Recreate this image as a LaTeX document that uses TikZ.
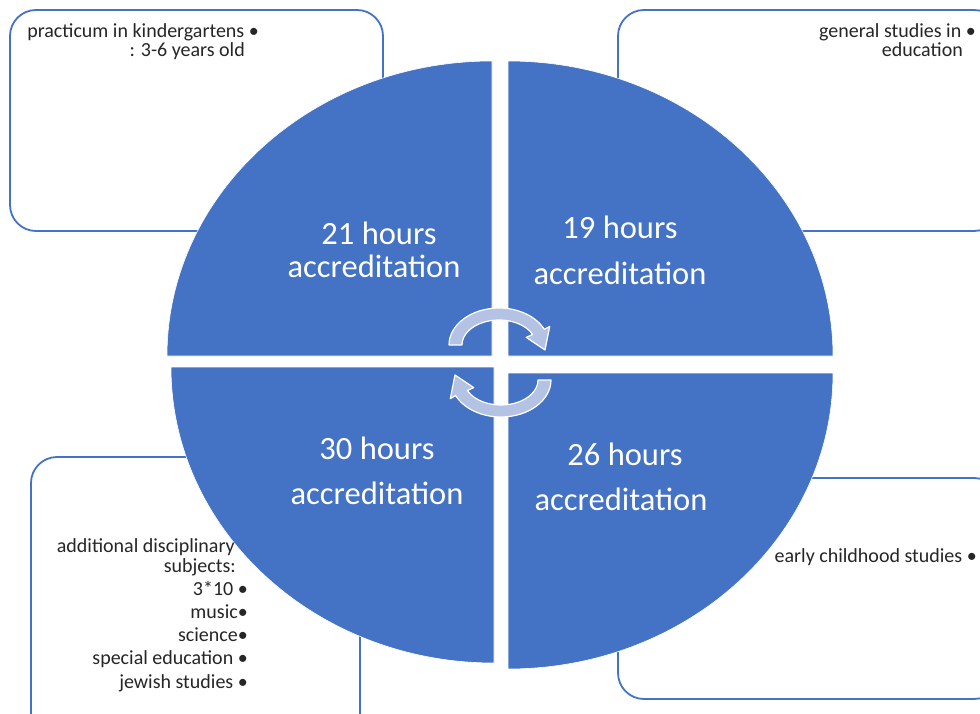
\documentclass[tikz,border=0pt]{standalone}
\usepackage{fontspec}
\setmainfont{Carlito}
\definecolor{pieblue}{HTML}{4472C4}
\definecolor{arrowfill}{RGB}{180,195,228}
\tikzset{
  box/.style={draw=pieblue, line width=1.8pt, rounded corners=26pt},
  quad/.style={fill=pieblue, draw=white, line width=0.6pt},
  cyc/.style={fill=arrowfill, draw=white, line width=1.2pt, line join=round},
  big/.style={text=white, font=\fontsize{32.5}{38}\selectfont, inner sep=0pt},
  small/.style={text=black!85, font=\fontsize{20}{24}\selectfont, inner sep=0pt, anchor=base east}
}
\begin{document}
\begin{tikzpicture}[x=1pt,y=-1pt]
\clip (0,0) rectangle (980,714);
\fill[white] (0,0) rectangle (980,714);
% boxes
\draw[box] (10,10) rectangle (383,231);
\draw[box] (618,10) rectangle (1000,231);
\draw[box] (31,457) rectangle (360,740);
\draw[box] (618,478) rectangle (1000,699);
% quadrants
\path[quad] (492,356) -- ++(-325,0) arc[start angle=180,end angle=270,x radius=325,y radius=295] -- cycle;
\path[quad] (508,356) -- ++(325,0) arc[start angle=0,end angle=-90,x radius=325,y radius=295] -- cycle;
\path[quad] (494,367) -- ++(-323,0) arc[start angle=180,end angle=90,x radius=323,y radius=296] -- cycle;
\path[quad] (508,373) -- ++(325,0) arc[start angle=0,end angle=90,x radius=325,y radius=296] -- cycle;
% cycle arrows
\begin{scope}[shift={(499,345)}]
\path[cyc] (180:50 and 37) arc[start angle=180,end angle=335,x radius=50,y radius=37]
  -- (50.7,-18.6) -- (46,5) -- (27.2,-7.6)
  -- (335:37 and 25) arc[start angle=335,end angle=180,x radius=37,y radius=25] -- cycle;
\end{scope}
\begin{scope}[shift={(501,380)},rotate=180]
\path[cyc] (180:50 and 37) arc[start angle=180,end angle=335,x radius=50,y radius=37]
  -- (50.7,-18.6) -- (46,5) -- (27.2,-7.6)
  -- (335:37 and 25) arc[start angle=335,end angle=180,x radius=37,y radius=25] -- cycle;
\end{scope}
% quadrant labels
\node[big, anchor=base] (q1a) at (379,245) {21 hours};
\node[big, anchor=base] (q1b) at (374,277) {accreditation};
\node[big, anchor=base] (q2a) at (620,239) {19 hours};
\node[big, anchor=base] (q2b) at (620,284) {accreditation};
\node[big, anchor=base] (q3a) at (377,459) {30 hours};
\node[big, anchor=base] (q3b) at (377,504) {accreditation};
\node[big, anchor=base] (q4a) at (625,465) {26 hours};
\node[big, anchor=base] (q4b) at (621,510) {accreditation};
% box texts
\node[small] (t1a) at (259,38) {practicum in kindergartens •};
\node[small] (t1b) at (245,57) {: 3-6 years old};
\node[small] (t2a) at (976,38) {general studies in •};
\node[small] (t2b) at (963,57) {education};
\node[small] (t3a) at (235,552) {additional disciplinary};
\node[small] (t3b) at (236,572) {subjects:};
\node[small] (t3c) at (248,595) {3*10 •};
\node[small] (t3d) at (248,618) {music•};
\node[small] (t3e) at (248,641) {science•};
\node[small] (t3f) at (248,664) {special education •};
\node[small] (t3g) at (248,688) {jewish studies •};
\node[small] (t4a) at (977,562) {early childhood studies •};
\end{tikzpicture}
\end{document}
